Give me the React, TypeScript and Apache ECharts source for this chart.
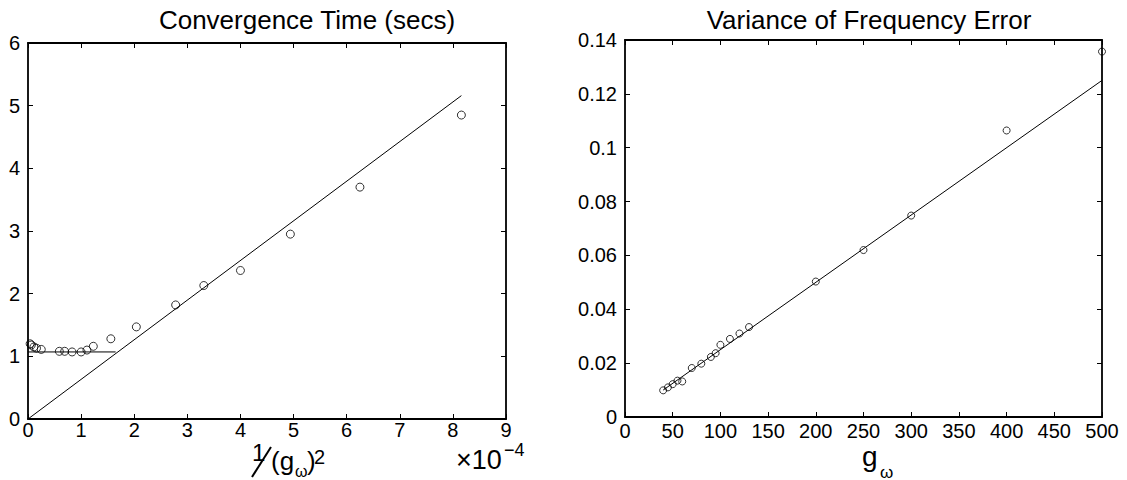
import React, { useEffect, useRef } from "react";
import * as echarts from "echarts";

// Left plot: convergence time vs 1/(g_w)^2 (x in units of 1e-4)
const convX = [0.04, 0.0625, 0.111, 0.16, 0.25, 0.59, 0.69, 0.83, 1.0, 1.11, 1.23, 1.56, 2.04, 2.78, 3.31, 4.0, 4.94, 6.25, 8.16];
const convY = [1.2, 1.18, 1.15, 1.13, 1.11, 1.08, 1.08, 1.07, 1.07, 1.1, 1.16, 1.28, 1.47, 1.82, 2.13, 2.37, 2.95, 3.7, 4.85];
const convFitX = [0, 8.16];
const convFitY = [0, 5.16];
const convFlatX = [0, 1.65];
const convFlatY = [1.07, 1.07];

// Right plot: variance of frequency error vs g_w
const gVals = [40, 45, 50, 55, 60, 70, 80, 90, 95, 100, 110, 120, 130, 200, 250, 300, 400, 500];
const varVals = [0.0099, 0.011, 0.0122, 0.0135, 0.0132, 0.0182, 0.0198, 0.0223, 0.0237, 0.0268, 0.029, 0.031, 0.0334, 0.0503, 0.062, 0.0748, 0.1064, 0.1357];
const varFitX = [40, 500];
const varFitY = [0.01, 0.125];

const leftXTicks = [0, 9, 1];
const leftYTicks = [0, 6, 1];
const rightXTicks = [0, 500, 50];
const rightYTicks = [0, 0.14, 0.02];

const FONT = "Liberation Sans";

export default function App() {
  const ref = useRef<HTMLDivElement>(null);
  useEffect(() => {
    if (!ref.current) return;
    const chart = echarts.init(ref.current, undefined, { renderer: "svg" });
    const axLine = { show: true, lineStyle: { color: "#000", width: 1.8 } };
    const tick = { show: true, inside: true, length: 5, lineStyle: { color: "#000", width: 1 } };
    const lbl = { color: "#000", fontSize: 20, fontFamily: FONT };
    const mkX = (gi: number, t: number[], pos: string, showLabel: boolean, margin: number) => ({
      type: "value",
      gridIndex: gi,
      position: pos,
      min: t[0],
      max: t[1],
      interval: t[2],
      axisLine: { ...axLine, onZero: false },
      axisTick: tick,
      axisLabel: { ...lbl, show: showLabel, margin },
      splitLine: { show: false },
    });
    const mkY = (gi: number, t: number[], pos: string, showLabel: boolean) => ({
      type: "value",
      gridIndex: gi,
      position: pos,
      min: t[0],
      max: t[1],
      interval: t[2],
      axisLine: { ...axLine, onZero: false },
      axisTick: tick,
      axisLabel: { ...lbl, show: showLabel, margin: 8 },
      splitLine: { show: false },
    });
    const lineStyle = { color: "#000", width: 1 };
    const ts = { fontSize: 26, fontWeight: "normal", color: "#000", fontFamily: FONT };
    const txt = (text: string, x: number, y: number, fontSize: number) => ({
      type: "text",
      x,
      y,
      style: { text, fontSize, fontFamily: FONT, fill: "#000", align: "left", verticalAlign: "middle" },
    });
    const option: any = {
      animation: false,
      backgroundColor: "#fff",
      title: [
        { text: "Convergence Time (secs)", left: 302, top: 2, textAlign: "center", textStyle: ts },
        { text: "Variance of Frequency Error", left: 864, top: 2, textAlign: "center", textStyle: ts },
      ],
      grid: [
        { left: 28, top: 43, width: 478, height: 376 },
        { left: 625, top: 40, width: 477, height: 377 },
      ],
      xAxis: [
        mkX(0, leftXTicks, "bottom", true, 1),
        mkX(0, leftXTicks, "top", false, 1),
        mkX(1, rightXTicks, "bottom", true, 4),
        mkX(1, rightXTicks, "top", false, 4),
      ],
      yAxis: [
        mkY(0, leftYTicks, "left", true),
        mkY(0, leftYTicks, "right", false),
        mkY(1, rightYTicks, "left", true),
        mkY(1, rightYTicks, "right", false),
      ],
      series: [
        {
          type: "line",
          xAxisIndex: 0,
          yAxisIndex: 0,
          data: convFitX.map((x, i) => [x, convFitY[i]]),
          symbol: "none",
          lineStyle,
        },
        {
          type: "line",
          xAxisIndex: 0,
          yAxisIndex: 0,
          data: convFlatX.map((x, i) => [x, convFlatY[i]]),
          symbol: "none",
          lineStyle,
        },
        {
          type: "scatter",
          xAxisIndex: 0,
          yAxisIndex: 0,
          data: convX.map((x, i) => [x, convY[i]]),
          symbol: "circle",
          symbolSize: 8,
          itemStyle: { color: "transparent", borderColor: "#000", borderWidth: 1 },
        },
        {
          type: "line",
          xAxisIndex: 2,
          yAxisIndex: 2,
          data: varFitX.map((x, i) => [x, varFitY[i]]),
          symbol: "none",
          lineStyle,
        },
        {
          type: "scatter",
          xAxisIndex: 2,
          yAxisIndex: 2,
          data: gVals.map((x, i) => [x, varVals[i]]),
          symbol: "circle",
          symbolSize: 7,
          itemStyle: { color: "transparent", borderColor: "#000", borderWidth: 1 },
        },
      ],
      graphic: [
        // left x-axis label: 1/(g_w)^2
        txt("1", 252, 452, 24),
        { type: "line", shape: { x1: 252, y1: 477, x2: 271, y2: 447 }, style: { stroke: "#000", lineWidth: 2 } },
        txt("(g", 271, 461, 26),
        txt("ω", 295, 471, 16),
        txt(")", 307, 461, 26),
        txt("2", 314, 457, 20),
        // exponent
        txt("×10", 456, 460, 27),
        txt("−4", 504, 450, 18),
        // right x-axis label g_w
        txt("g", 862, 456, 28),
        txt("ω", 880, 472, 17),
      ],
    };
    chart.setOption(option);
    return () => chart.dispose();
  }, []);
  return (
    <div
      ref={ref}
      style={{ position: "fixed", left: 0, top: 0, width: 1127, height: 480, background: "#fff" }}
    />
  );
}
